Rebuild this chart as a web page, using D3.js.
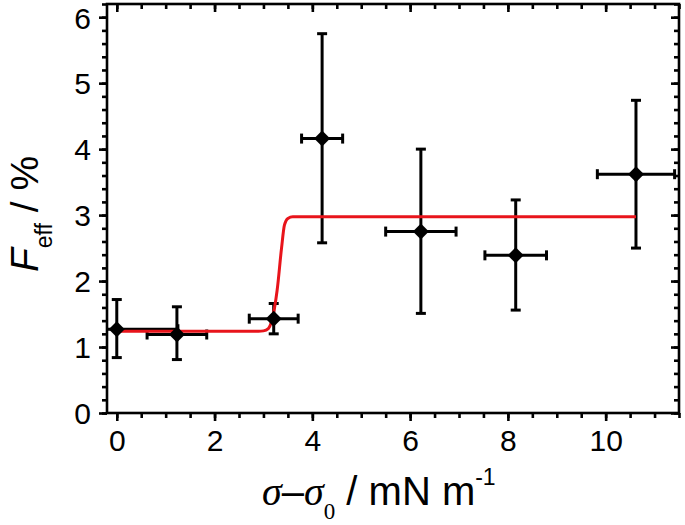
<!DOCTYPE html>
<html>
<head>
<meta charset="utf-8">
<script src="https://cdn.jsdelivr.net/npm/d3@7"></script>
<style>
  html, body { margin: 0; padding: 0; background: #fff; }
  svg { display: block; }
  text { font-family: Arial, "Liberation Sans", sans-serif; fill: #000; }
</style>
</head>
<body>
<svg id="chart" width="685" height="525"></svg>
<script>
// ---- data ----
const xVals     = [0, 1.23, 3.21, 4.20, 6.22, 8.16, 10.62];
const yVals     = [1.27, 1.19, 1.43, 4.16, 2.75, 2.39, 3.62];
const yErrUpper = [1.72, 1.61, 1.66, 5.75, 4.00, 3.23, 4.74];
const yErrLower = [0.84, 0.81, 1.20, 2.58, 1.51, 1.56, 2.50];
const xErr      = [1.25, 0.61, 0.50, 0.42, 0.72, 0.63, 0.79];

// sigmoidal fit curve (red)
const fitX = [0, 2.9, 3.0, 3.1, 3.17, 3.28, 3.37, 3.43, 3.5, 3.6, 10.62];
const fitY = [1.24, 1.24, 1.245, 1.28, 1.40, 1.86, 2.50, 2.85, 2.95, 2.975, 2.975];

const xMajorTicks = [0, 2, 4, 6, 8, 10];
const yMajorTicks = [0, 1, 2, 3, 4, 5, 6];
const xMinorTicks = d3.range(0, 11.51, 0.5);
const yMinorTicks = d3.range(0, 6.21, 0.2).map(v => +v.toFixed(2));

// ---- layout ----
const L = 107, R = 679, T = 4, B = 413;
const svg = d3.select("#chart");
const x = d3.scaleLinear().domain([-0.2, 11.5]).range([L, R]);
const y = d3.scaleLinear().domain([0, 6.2]).range([B, T]);

const defs = svg.append("defs");
defs.append("clipPath").attr("id", "clip")
  .append("rect").attr("x", L).attr("y", T).attr("width", R - L).attr("height", B - T);

// ---- axes ----
const axW = 2.6, majLen = 8, minLen = 5;
function styleAxis(g) {
  g.selectAll("path.domain").remove();
  g.selectAll("line").attr("stroke", "#000").attr("stroke-width", axW);
}
// bottom (outward)
const gB = svg.append("g").attr("transform", `translate(0,${B})`);
gB.call(d3.axisBottom(x).tickValues(xMinorTicks).tickSize(minLen).tickFormat(""));
gB.call(styleAxis);
const gB2 = svg.append("g").attr("transform", `translate(0,${B})`);
gB2.call(d3.axisBottom(x).tickValues(xMajorTicks).tickSize(majLen).tickPadding(8).tickFormat(d3.format("d")));
gB2.call(styleAxis);
gB2.selectAll("text").attr("font-size", 30).attr("dy", "0.72em");
// top (inward)
const gT = svg.append("g").attr("transform", `translate(0,${T})`);
gT.call(d3.axisTop(x).tickValues(xMinorTicks).tickSize(-minLen).tickFormat(""));
gT.call(styleAxis);
const gT2 = svg.append("g").attr("transform", `translate(0,${T})`);
gT2.call(d3.axisTop(x).tickValues(xMajorTicks).tickSize(-majLen).tickFormat(""));
gT2.call(styleAxis);
// left (outward)
const gL = svg.append("g").attr("transform", `translate(${L},0)`);
gL.call(d3.axisLeft(y).tickValues(yMinorTicks).tickSize(minLen).tickFormat(""));
gL.call(styleAxis);
const gL2 = svg.append("g").attr("transform", `translate(${L},0)`);
gL2.call(d3.axisLeft(y).tickValues(yMajorTicks).tickSize(majLen).tickPadding(8).tickFormat(d3.format("d")));
gL2.call(styleAxis);
gL2.selectAll("text").attr("font-size", 30).attr("dy", "0.36em");
// right (inward)
const gR = svg.append("g").attr("transform", `translate(${R},0)`);
gR.call(d3.axisRight(y).tickValues(yMinorTicks).tickSize(-minLen).tickFormat(""));
gR.call(styleAxis);
const gR2 = svg.append("g").attr("transform", `translate(${R},0)`);
gR2.call(d3.axisRight(y).tickValues(yMajorTicks).tickSize(-majLen).tickFormat(""));
gR2.call(styleAxis);

// frame
svg.append("rect").attr("x", L).attr("y", T).attr("width", R - L).attr("height", B - T)
  .attr("fill", "none").attr("stroke", "#000").attr("stroke-width", axW);

// ---- data layer ----
const plot = svg.append("g").attr("clip-path", "url(#clip)");
const data = xVals.map((v, i) => ({x: v, y: yVals[i], hi: yErrUpper[i], lo: yErrLower[i], xe: xErr[i]}));
const capHalf = 5, ebW = 3;

const eb = plot.append("g").attr("stroke", "#000").attr("stroke-width", ebW).attr("fill", "none");
data.forEach(d => {
  // vertical
  eb.append("line").attr("x1", x(d.x)).attr("x2", x(d.x)).attr("y1", y(d.lo)).attr("y2", y(d.hi));
  eb.append("line").attr("x1", x(d.x) - capHalf).attr("x2", x(d.x) + capHalf).attr("y1", y(d.hi)).attr("y2", y(d.hi));
  eb.append("line").attr("x1", x(d.x) - capHalf).attr("x2", x(d.x) + capHalf).attr("y1", y(d.lo)).attr("y2", y(d.lo));
  // horizontal
  eb.append("line").attr("x1", x(d.x - d.xe)).attr("x2", x(d.x + d.xe)).attr("y1", y(d.y)).attr("y2", y(d.y));
  eb.append("line").attr("x1", x(d.x - d.xe)).attr("x2", x(d.x - d.xe)).attr("y1", y(d.y) - capHalf).attr("y2", y(d.y) + capHalf);
  eb.append("line").attr("x1", x(d.x + d.xe)).attr("x2", x(d.x + d.xe)).attr("y1", y(d.y) - capHalf).attr("y2", y(d.y) + capHalf);
});

// fit line
const fit = fitX.map((v, i) => [v, fitY[i]]);
plot.append("path").datum(fit)
  .attr("fill", "none").attr("stroke", "#e8141b").attr("stroke-width", 3)
  .attr("stroke-linejoin", "round")
  .attr("d", d3.line().x(d => x(d[0])).y(d => y(d[1])).curve(d3.curveMonotoneX));

// diamonds
const dh = 8;
plot.selectAll("path.pt").data(data).enter().append("path")
  .attr("class", "pt")
  .attr("d", d => `M${x(d.x)},${y(d.y) - dh}L${x(d.x) + dh},${y(d.y)}L${x(d.x)},${y(d.y) + dh}L${x(d.x) - dh},${y(d.y)}Z`)
  .attr("fill", "#000");

// ---- titles ----
const xt = svg.append("text").attr("x", 262).attr("y", 505).attr("font-size", 40);
xt.append("tspan").attr("font-family", "'Liberation Serif', 'Times New Roman', serif").attr("font-style", "italic").text("σ");
xt.append("tspan").text("–");
xt.append("tspan").attr("font-family", "'Liberation Serif', 'Times New Roman', serif").attr("font-style", "italic").text("σ");
xt.append("tspan").attr("font-family", "'Liberation Serif', 'Times New Roman', serif").attr("font-size", 23).attr("dy", 14).text("0");
xt.append("tspan").attr("dy", -14).text(" / mN m");
xt.append("tspan").attr("font-size", 23).attr("dy", -20).text("-1");

const yt = svg.append("text").attr("transform", "translate(38,272) rotate(-90)").attr("font-size", 39);
yt.append("tspan").attr("font-style", "italic").text("F");
yt.append("tspan").attr("font-size", 23).attr("dy", 14).text("eff");
yt.append("tspan").attr("dy", -14).text(" / %");
</script>
</body>
</html>
